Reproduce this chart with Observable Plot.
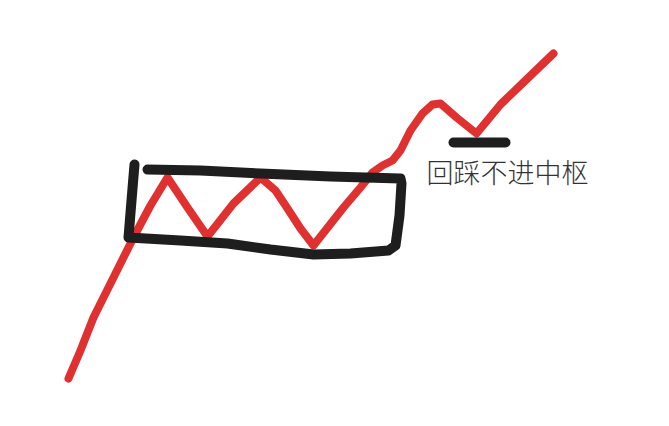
<!DOCTYPE html>
<html>
<head>
<meta charset="utf-8">
<script src="https://cdn.jsdelivr.net/npm/d3@7"></script>
<script src="https://cdn.jsdelivr.net/npm/@observablehq/plot@0.6"></script>
<style>
  html, body { margin: 0; padding: 0; background: #fff; }
</style>
</head>
<body>
<div id="chart"></div>
<script>
// Price path (red) (x, y in picture units; y grows downward)
const priceX = [68, 80, 93, 113, 133, 150, 167, 187, 207, 233, 260, 275, 287, 300, 313, 328, 343, 360, 372, 382, 392, 400, 410, 422, 432, 440, 456, 476, 500, 527, 553];
const priceY = [378, 350, 317, 277, 237, 205, 177, 207, 236, 203, 177, 190, 208, 228, 245, 226, 207, 187, 172, 165, 160, 150, 130, 113, 104, 103, 117, 133, 104, 78, 53];

// Pivot box (black), drawn as one stroke
const boxX = [134, 131, 128, 180, 227, 270, 313, 350, 388, 395, 399, 401, 400, 330, 260, 200, 147];
const boxY = [164, 200, 237, 240, 243, 249, 254, 253, 250, 245, 215, 183, 178, 176, 173, 170, 169];

// Pull-back level (black short bar)
const barX = [453, 505];
const barY = [142, 142];

// Annotation
const labelText = ["回踩不进中枢"];
const labelX = [426];
const labelY = [174];

const price = priceX.map((x, i) => ({x, y: priceY[i]}));
const box = boxX.map((x, i) => ({x, y: boxY[i]}));
const bar = barX.map((x, i) => ({x, y: barY[i]}));
const labels = labelText.map((t, i) => ({t, x: labelX[i], y: labelY[i]}));

const chart = Plot.plot({
  width: 669,
  height: 426,
  margin: 0,
  x: {domain: [0, 669], axis: null},
  y: {domain: [0, 426], reverse: true, axis: null},
  style: {background: "#fff"},
  marks: [
    Plot.line(price, {x: "x", y: "y", stroke: "#e03131", strokeWidth: 8, strokeLinecap: "round", strokeLinejoin: "round", curve: "linear"}),
    Plot.line(box, {x: "x", y: "y", stroke: "#1e1e1e", strokeWidth: 10, strokeLinecap: "round", strokeLinejoin: "round", curve: "linear"}),
    Plot.line(bar, {x: "x", y: "y", stroke: "#1e1e1e", strokeWidth: 10, strokeLinecap: "round"}),
    Plot.text(labels, {x: "x", y: "y", text: "t", textAnchor: "start", fontSize: 27, fill: "#333", fontFamily: "Noto Sans CJK SC", fontWeight: 300})
  ]
});
document.getElementById("chart").appendChild(chart);
</script>
</body>
</html>
